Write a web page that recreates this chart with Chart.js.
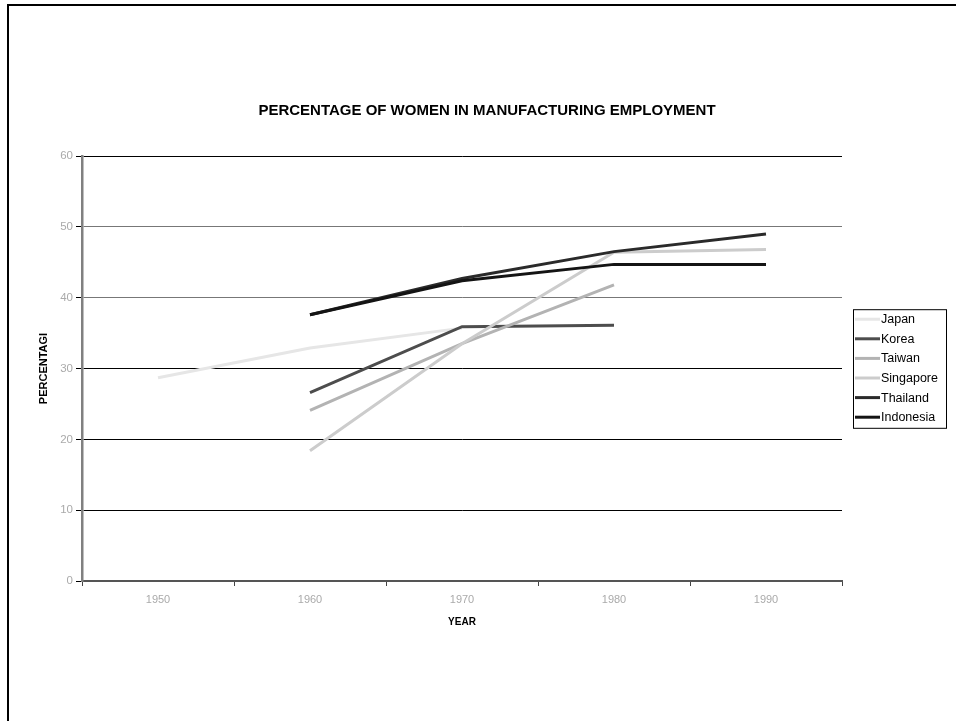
<!DOCTYPE html>
<html>
<head>
<meta charset="utf-8">
<title>Percentage of women in manufacturing employment</title>
<script src="https://cdn.jsdelivr.net/npm/chart.js@4/dist/chart.umd.min.js"></script>
<style>
  html, body { margin: 0; padding: 0; background: #fff; overflow: hidden; }
  #wrap { position: relative; width: 956px; height: 721px; }
  #frame {
    position: absolute; left: 7px; top: 4px; right: -20px; bottom: -20px;
    border-left: 2.5px solid #000; border-top: 2.5px solid #000;
    pointer-events: none;
  }
  canvas { position: absolute; left: 0; top: 0; }
</style>
</head>
<body>
<div id="wrap">
  <canvas id="chart" width="956" height="721"></canvas>
  <div id="frame"></div>
</div>
<script>
// Census years on the category axis
const years = ['1950', '1960', '1970', '1980', '1990'];

// Women's share of manufacturing employment (%), by country
const japan     = [28.7, 32.9, 35.7, null, null];
const korea     = [null, 26.6, 35.9, 36.1, null];
const taiwan    = [null, 24.1, 33.5, 41.8, null];
const singapore = [null, 18.4, 33.5, 46.4, 46.8];
const thailand  = [null, 37.6, 42.7, 46.5, 49.0];
const indonesia = [null, 37.6, 42.4, 44.7, 44.7];

const FONT = "'Liberation Sans', Arial, sans-serif";

function series(label, data, color, order) {
  return {
    label, data,
    borderColor: color, backgroundColor: color,
    borderWidth: 3, pointRadius: 0, pointHoverRadius: 0,
    tension: 0, fill: false, spanGaps: false, order
  };
}

// Boxed legend to the right of the plot area
const boxedLegend = {
  id: 'boxedLegend',
  afterDraw(chart) {
    const ctx = chart.ctx;
    const area = chart.chartArea;
    const sets = chart.data.datasets;
    const rowH = 19.6;
    const left = area.right + 11;
    const width = 93;
    const height = rowH * sets.length + 1;
    const top = (area.top + area.bottom) / 2 - height / 2;
    ctx.save();
    ctx.fillStyle = '#fff';
    ctx.fillRect(left, top, width, height);
    ctx.strokeStyle = '#000';
    ctx.lineWidth = 1;
    ctx.strokeRect(left + 0.5, top + 0.5, width, height);
    ctx.font = '12.5px ' + FONT;
    ctx.textBaseline = 'middle';
    ctx.textAlign = 'left';
    sets.forEach((ds, i) => {
      const y = top + 10 + i * rowH;
      ctx.strokeStyle = ds.borderColor;
      ctx.lineWidth = 3;
      ctx.beginPath();
      ctx.moveTo(left + 2, y);
      ctx.lineTo(left + 27, y);
      ctx.stroke();
      ctx.fillStyle = '#000';
      ctx.fillText(ds.label, left + 28, y + 0.5);
    });
    ctx.restore();
  }
};

const gridColors = { 0: '#555', 10: '#000', 20: '#000', 30: '#000', 40: '#777', 50: '#777', 60: '#000' };

new Chart(document.getElementById('chart'), {
  type: 'line',
  data: {
    labels: years,
    datasets: [
      series('Japan', japan, '#e6e6e6', 5),
      series('Korea', korea, '#4d4d4d', 4),
      series('Taiwan', taiwan, '#b3b3b3', 3),
      series('Singapore', singapore, '#cccccc', 2),
      series('Thailand', thailand, '#2a2a2a', 1),
      series('Indonesia', indonesia, '#141414', 0)
    ]
  },
  options: {
    responsive: false,
    animation: false,
    devicePixelRatio: 1,
    layout: { padding: { left: 18, top: 0, right: 0, bottom: 80 } },
    plugins: {
      legend: { display: false },
      tooltip: { enabled: false },
      title: {
        display: true,
        text: 'PERCENTAGE OF WOMEN IN MANUFACTURING EMPLOYMENT',
        color: '#000',
        font: { family: FONT, size: 15, weight: 'bold' },
        padding: { top: 102, bottom: 36 }
      }
    },
    scales: {
      x: {
        type: 'category',
        offset: true,
        afterFit(scale) { scale.height = 60; },
        grid: {
          offset: true,
          drawOnChartArea: false,
          drawTicks: true,
          tickLength: 5,
          tickColor: '#444',
          tickWidth: 1
        },
        border: { display: true, color: '#555', width: 2 },
        ticks: {
          color: '#aaa',
          padding: 7,
          maxRotation: 0,
          font: { family: FONT, size: 11 }
        },
        title: {
          display: true,
          text: 'YEAR',
          color: '#000',
          font: { family: FONT, size: 10, weight: 'bold' },
          padding: { top: 0, bottom: 13 }
        }
      },
      y: {
        min: 0,
        max: 60,
        afterFit(scale) { scale.width = 64; },
        grid: {
          color: (c) => gridColors[c.tick.value] || '#000',
          lineWidth: 1,
          drawTicks: true,
          tickLength: 6,
          tickColor: '#000'
        },
        border: { display: true, color: '#808080', width: 2.5 },
        ticks: {
          stepSize: 10,
          color: '#aaa',
          padding: 3,
          font: { family: FONT, size: 11.5 }
        },
        title: {
          display: true,
          text: 'PERCENTAGI',
          color: '#000',
          font: { family: FONT, size: 11, weight: 'bold' },
          padding: { top: 19.5, bottom: 0 }
        }
      },
      // empty strip on the right that holds the legend
      legendGutter: {
        type: 'linear',
        position: 'right',
        display: true,
        afterFit(scale) { scale.width = 114; },
        grid: { display: false, drawTicks: false },
        border: { display: false },
        ticks: { display: false }
      }
    }
  },
  plugins: [boxedLegend]
});
</script>
</body>
</html>
